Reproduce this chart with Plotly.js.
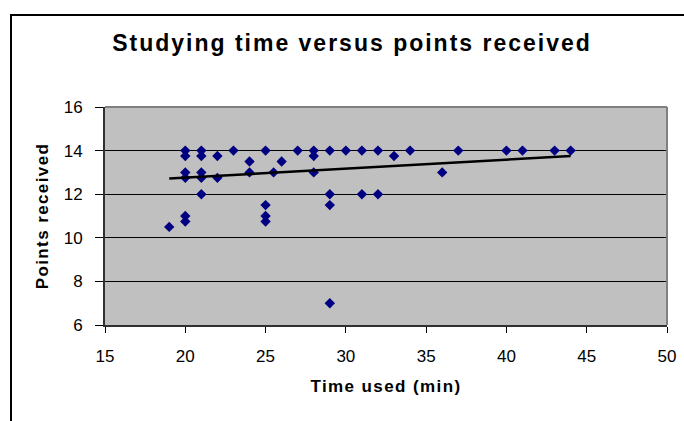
<!DOCTYPE html>
<html>
<head>
<meta charset="utf-8">
<script src="https://cdn.plot.ly/plotly-3.0.1.min.js"></script>
<style>
  html, body { margin: 0; padding: 0; background: #fff; overflow: hidden; }
  #wrap { position: relative; width: 684px; height: 421px; }
  #frame { position: absolute; left: 10px; top: 14px; width: 700px; height: 440px;
           border-left: 2px solid #000; border-top: 2px solid #000; pointer-events: none; z-index: 2; }
  #chart { position: absolute; left: 0; top: 0; width: 684px; height: 421px; }
  .gtitle { letter-spacing: 2px; }
  .xtitle, .ytitle { letter-spacing: 1.4px; }
</style>
</head>
<body>
<div id="wrap">
  <div id="chart"></div>
  <div id="frame"></div>
</div>
<script>
// Time used (min)
const timeUsed = [19,
  20, 20, 20, 20, 20, 20,
  21, 21, 21, 21, 21,
  22, 22,
  23,
  24, 24,
  25, 25, 25, 25,
  25.5,
  26,
  27,
  28, 28, 28,
  29, 29, 29, 29,
  30,
  31, 31,
  32, 32,
  33,
  34,
  36,
  37,
  40,
  41,
  43,
  44];
// Points received
const pointsReceived = [10.5,
  14, 13.75, 13, 12.75, 11, 10.75,
  14, 13.75, 13, 12.75, 12,
  13.75, 12.75,
  14,
  13.5, 13,
  14, 11.5, 11, 10.75,
  13,
  13.5,
  14,
  14, 13.75, 13,
  14, 12, 11.5, 7,
  14,
  14, 12,
  14, 12,
  13.75,
  14,
  13,
  14,
  14,
  14,
  14,
  14];

// Linear trendline as drawn in the picture (end points)
const trendX = [19, 44];
const trendY = [12.72, 13.75];

const xTicks = [15, 20, 25, 30, 35, 40, 45, 50];
const yTicks = [6, 8, 10, 12, 14, 16];

const font = "Liberation Sans, Arial, sans-serif";

const data = [
  {
    x: timeUsed, y: pointsReceived, type: 'scatter', mode: 'markers',
    marker: { symbol: 'diamond', size: 8, color: '#000080', line: { width: 0 } },
    hoverinfo: 'skip', showlegend: false
  },
  {
    x: trendX, y: trendY, type: 'scatter', mode: 'lines',
    line: { color: '#000000', width: 2.5 },
    hoverinfo: 'skip', showlegend: false
  }
];

const layout = {
  width: 684, height: 421,
  margin: { l: 105, r: 17, t: 107, b: 96, pad: 0 },
  paper_bgcolor: '#ffffff',
  plot_bgcolor: '#c0c0c0',
  font: { family: font, color: '#000000', size: 17 },
  title: {
    text: '<b>Studying time versus points received</b>',
    font: { family: font, size: 23, color: '#000000' },
    xref: 'container', x: 352 / 684, xanchor: 'center',
    yref: 'container', y: 1 - 43 / 421, yanchor: 'middle'
  },
  xaxis: {
    range: [15, 50], tickvals: xTicks, ticktext: xTicks.map(String),
    showgrid: false, zeroline: false,
    showline: true, linecolor: '#303030', linewidth: 2,
    ticks: 'outside', ticklen: 6, tickwidth: 1, tickcolor: '#000000',
    ticklabelstandoff: 9,
    tickfont: { family: font, size: 17, color: '#000000' },
    title: { text: '<b>Time used (min)</b>', font: { family: font, size: 17, color: '#000000' }, standoff: 15 },
    fixedrange: true
  },
  yaxis: {
    range: [6, 16], tickvals: yTicks, ticktext: yTicks.map(String),
    showgrid: true, gridcolor: '#000000', gridwidth: 1, zeroline: false,
    showline: true, linecolor: '#303030', linewidth: 2,
    ticks: 'outside', ticklen: 8, tickwidth: 1, tickcolor: '#000000',
    ticklabelstandoff: 9,
    tickfont: { family: font, size: 17, color: '#000000' },
    title: { text: '<b>Points received</b>', font: { family: font, size: 17, color: '#000000' }, standoff: 11 },
    fixedrange: true
  },
  shapes: [
    { type: 'line', xref: 'paper', yref: 'paper', x0: 0, x1: 1, y0: 1, y1: 1,
      line: { color: '#808080', width: 2 }, layer: 'above' },
    { type: 'line', xref: 'paper', yref: 'paper', x0: 1, x1: 1, y0: 0, y1: 1,
      line: { color: '#808080', width: 2 }, layer: 'above' }
  ]
};

Plotly.newPlot('chart', data, layout, { displayModeBar: false, staticPlot: true });
</script>
</body>
</html>
